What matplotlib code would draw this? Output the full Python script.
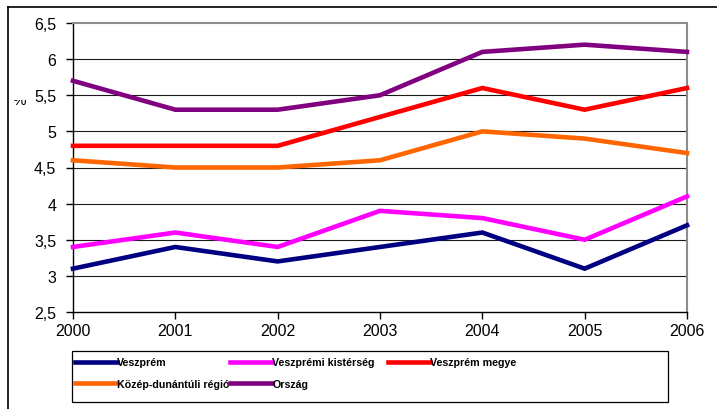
import matplotlib
matplotlib.use("Agg")
import matplotlib.pyplot as plt
from matplotlib import font_manager
from matplotlib.patches import Rectangle
from matplotlib.ticker import FuncFormatter, FixedLocator

years = [2000, 2001, 2002, 2003, 2004, 2005, 2006]
veszprem = [3.1, 3.4, 3.2, 3.4, 3.6, 3.1, 3.7]
kisterseg = [3.4, 3.6, 3.4, 3.9, 3.8, 3.5, 4.1]
megye = [4.8, 4.8, 4.8, 5.2, 5.6, 5.3, 5.6]
regio = [4.6, 4.5, 4.5, 4.6, 5.0, 4.9, 4.7]
orszag = [5.7, 5.3, 5.3, 5.5, 6.1, 6.2, 6.1]
yticks = [2.5, 3, 3.5, 4, 4.5, 5, 5.5, 6, 6.5]

names = ["Veszprém", "Veszprémi kistérség", "Veszprém megye",
         "Közép-dunántúli régió", "Ország"]
colors = ["#000080", "#FF00FF", "#FF0000", "#FF6600", "#800080"]
series = [veszprem, kisterseg, megye, regio, orszag]

avail = {f.name for f in font_manager.fontManager.ttflist}
base_font = "Liberation Sans" if "Liberation Sans" in avail else "DejaVu Sans"
if "Liberation Sans Narrow" in avail:
    leg_font, leg_size = "Liberation Sans Narrow", 9.5
else:
    leg_font, leg_size = base_font, 7.7
plt.rcParams["font.family"] = [base_font, "DejaVu Sans"]

W, H = 717, 410
fig = plt.figure(figsize=(W / 100, H / 100), dpi=100)
fig.patch.set_facecolor("white")

def fx(px):
    return px / W

def fy(py):
    return 1 - py / H

ax = fig.add_axes([fx(73), fy(313), fx(687) - fx(73), fy(24) - fy(313)])
ax.set_xlim(years[0], years[-1])
ax.set_ylim(yticks[0], yticks[-1])

for yv in yticks[1:-1]:
    ax.axhline(yv, color="#1a1a1a", lw=0.8, zorder=1)

lines = []
for name, col, vals in zip(names, colors, series):
    ln, = ax.plot(years, vals, color=col, lw=3.3, label=name, zorder=3,
                  solid_joinstyle="miter", clip_on=False)
    lines.append(ln)

for s in ["left", "bottom"]:
    ax.spines[s].set_color("black")
    ax.spines[s].set_linewidth(1.0)
for s in ["top", "right"]:
    ax.spines[s].set_color("#8c8c8c")
    ax.spines[s].set_linewidth(1.5)

ax.yaxis.set_major_locator(FixedLocator(yticks))
ax.yaxis.set_major_formatter(FuncFormatter(
    lambda v, p: ("%g" % v).replace(".", ",")))
ax.set_xticks(years)
ax.set_xticklabels([str(y) for y in years])
ax.tick_params(axis="y", direction="out", length=5, width=1, pad=7,
               labelsize=11.5, colors="black")
ax.tick_params(axis="x", direction="out", length=5, width=1, pad=3,
               labelsize=11.5, colors="black")

# partially hidden "%" axis label
fig.text(fx(19), fy(105), "%", fontsize=11, ha="center", va="baseline")
fig.patches.append(Rectangle((fx(10), fy(100.5)), fx(30) - fx(10), fy(85) - fy(100.5),
                             transform=fig.transFigure, facecolor="white",
                             edgecolor="none", zorder=5))

# outer frame (top and left edges visible)
fig.add_artist(plt.Line2D([fx(8), 1.0], [fy(8), fy(8)], color="black", lw=1.2,
                          transform=fig.transFigure))
fig.add_artist(plt.Line2D([fx(8), fx(8)], [fy(8), 0.0], color="black", lw=1.2,
                          transform=fig.transFigure))

# legend box
fig.patches.append(Rectangle((fx(72), fy(403)), fx(668) - fx(72), fy(352) - fy(403),
                             transform=fig.transFigure, facecolor="white",
                             edgecolor="black", lw=0.9, zorder=1))

col_groups = [[0, 3], [1, 4], [2]]
col_x = [75, 230, 388]
for grp, x0 in zip(col_groups, col_x):
    leg = fig.legend([lines[i] for i in grp], [names[i] for i in grp],
                     loc="upper left", bbox_to_anchor=(fx(x0), fy(358.5)),
                     bbox_transform=fig.transFigure, frameon=False,
                     handlelength=3.95, handletextpad=0.0, borderpad=0.0,
                     borderaxespad=0.0, labelspacing=1.05,
                     prop={"family": leg_font, "weight": "bold", "size": leg_size})
    leg.set_zorder(6)

fig.savefig("out.png", dpi=100, facecolor="white")
